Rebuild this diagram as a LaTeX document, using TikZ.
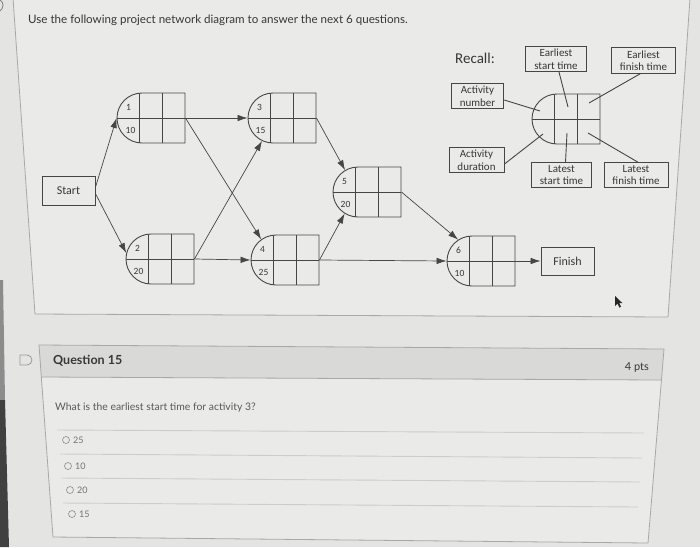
\documentclass[tikz,border=0pt]{standalone}
\usepackage{fontspec}
\setmainfont{Lato}
\newfontfamily\diagfont{Carlito}
\usetikzlibrary{arrows.meta, shapes.misc}
\definecolor{pagebg}{RGB}{228,228,226}
\definecolor{panelbg}{RGB}{234,234,232}
\definecolor{headbg}{RGB}{217,217,215}
\definecolor{framegray}{RGB}{168,168,166}
\definecolor{rulegray}{RGB}{204,204,202}
\definecolor{inkgray}{RGB}{70,70,70}
\definecolor{textgray}{RGB}{55,55,55}

\begin{document}
\begin{tikzpicture}[x=1pt, y=-1pt,
  act/.style={rounded rectangle, rounded rectangle right arc=none, draw=inkgray, line width=0.9pt,
    minimum width=68pt, minimum height=50pt, inner sep=0pt,
    path picture={
      \draw[inkgray, line width=0.9pt] (path picture bounding box.west) -- (path picture bounding box.east);
      \draw[inkgray, line width=0.9pt] ([xshift=22.5pt]path picture bounding box.north west) -- ([xshift=22.5pt]path picture bounding box.south west);
      \draw[inkgray, line width=0.9pt] ([xshift=45pt]path picture bounding box.north west) -- ([xshift=45pt]path picture bounding box.south west);
    }},
  num/.style={font=\diagfont\fontsize{9.5}{10}\selectfont, text=textgray, inner sep=0pt},
  endbox/.style={draw=inkgray, line width=0.8pt, minimum width=53pt, minimum height=29pt, inner sep=0pt,
    font=\diagfont\fontsize{12}{14}\selectfont, text=textgray},
  keybox/.style={draw=inkgray, line width=0.9pt, align=center, inner xsep=8.5pt, inner ysep=2.5pt,
    font=\diagfont\fontsize{11}{12.5}\selectfont, text=textgray},
  flow/.style={draw=inkgray, line width=0.7pt, -{Latex[length=10pt,width=6.5pt]}},
  lead/.style={draw=inkgray, line width=0.9pt},
  pagetext/.style={inner sep=0pt, text=textgray},
  radio/.style={circle, draw=black!45, line width=0.6pt, minimum size=7pt, inner sep=0pt},
  opttext/.style={inner sep=0pt, anchor=west, text=black!55, font=\fontsize{9}{11}\selectfont},
  ]
\useasboundingbox (0,0) rectangle (700,547);
% page
\fill[pagebg] (0,0) rectangle (700,547);
\fill[black!45] (0,280) -- (3,280) -- (5,400) -- (0,400) -- cycle;
\fill[black!75] (0,400) -- (5,400) -- (9,547) -- (0,547) -- cycle;
\draw[black!50, line width=0.8pt] (0,0) .. controls (4,2) and (4,8) .. (0,11);
% diagram panel
\filldraw[fill=panelbg, draw=framegray, line width=0.8pt] (13,-2) -- (35,314) -- (668,317) -- (690,-2) -- cycle;
\node[pagetext, anchor=west, font=\fontsize{11.6}{14}\selectfont] (title) at (28,20)
  {Use the following project network diagram to answer the next 6 questions.};

% activity nodes
\node[endbox] (start) at (68.5,190.5) {Start};
\node[act] (a1) at (151,118) {};
\node[num] (n1) at ([xshift=12pt,yshift=11pt]a1.west) {1};
\node[num] (d1) at ([xshift=14pt,yshift=-12pt]a1.west) {10};
\node[act] (a2) at (160,259) {};
\node[num] (n2) at ([xshift=12pt,yshift=11pt]a2.west) {2};
\node[num] (d2) at ([xshift=13pt,yshift=-12pt]a2.west) {20};
\node[act] (a3) at (282,118) {};
\node[num] (n3) at ([xshift=12pt,yshift=11pt]a3.west) {3};
\node[num] (d3) at ([xshift=13pt,yshift=-12pt]a3.west) {15};
\node[act] (a4) at (285,260) {};
\node[num] (n4) at ([xshift=12pt,yshift=11pt]a4.west) {4};
\node[num] (d4) at ([xshift=13pt,yshift=-12pt]a4.west) {25};
\node[act] (a5) at (367,192) {};
\node[num] (n5) at ([xshift=12pt,yshift=11pt]a5.west) {5};
\node[num] (d5) at ([xshift=13pt,yshift=-12pt]a5.west) {20};
\node[act] (a6) at (481,261) {};
\node[num] (n6) at ([xshift=12pt,yshift=11pt]a6.west) {6};
\node[num] (d6) at ([xshift=13pt,yshift=-12pt]a6.west) {10};
\node[endbox, minimum height=28pt] (finish) at (567.5,261) {Finish};

% precedence arrows
\draw[flow] ([yshift=3pt]start.east) -- (a1.west);
\draw[flow] ([yshift=-3pt]start.east) -- (a2.170);
\draw[flow] (a1.east) -- (a3.west);
\draw[flow] (a1.east) -- (a4.139);
\draw[flow] (a2.east) -- (a3.229);
\draw[flow] (a2.east) -- (a4.west);
\draw[flow] (a3.east) -- (a5.135);
\draw[flow] (a4.east) -- (a5.224);
\draw[flow] (a4.east) -- (a6.west);
\draw[flow] (a5.east) -- (a6.137);
\draw[flow] (a6.east) -- (finish.west);

% recall key
\node[pagetext, anchor=west, font=\diagfont\fontsize{15}{17}\selectfont] (recall) at (455,58) {Recall:};
\node[act] (key) at (566,119) {};
\node[keybox] (est) at (556,59) {Earliest\\start time};
\node[keybox] (eft) at (643.5,60.5) {Earliest\\finish time};
\node[keybox] (anum) at (477.5,96) {Activity\\number};
\node[keybox] (adur) at (476.5,160) {Activity\\duration};
\node[keybox] (lst) at (561.5,175) {Latest\\start time};
\node[keybox] (lft) at (636,175) {Latest\\finish time};
\coordinate (knum) at (540,111);
\coordinate (kest) at (568,107);
\coordinate (keft) at (589,103);
\coordinate (kdur) at (543,134);
\coordinate (klst) at (567,133);
\coordinate (klft) at (588,133);
\draw[lead] ([yshift=-4pt]anum.east) -- (knum);
\draw[lead] ([xshift=3pt]est.south) -- (kest);
\draw[lead] ([xshift=-3pt]eft.south) -- (keft);
\draw[lead] ([yshift=-4pt]adur.east) -- (kdur);
\draw[lead] ([xshift=4pt]lst.north) -- (klst);
\draw[lead] ([xshift=2pt]lft.north) -- (klft);

% cursor
\fill[black!85] (615,296) -- (615,306) -- (617.5,303.6) -- (619.4,307.6) -- (621,306.8) -- (619.2,303) -- (622.3,303) -- cycle;

% question box
\fill[panelbg] (39,345) -- (664,349) -- (648,543) -- (53,537) -- cycle;
\fill[headbg] (39,345) -- (664,349) -- (661.4,380) -- (41.3,377) -- cycle;
\draw[framegray, line width=0.8pt] (39,345) -- (664,349) -- (648,543) -- (53,537) -- cycle;
\draw[framegray, line width=0.8pt] (41.3,377) -- (661.4,380);
\draw[black!40, line width=0.8pt] (20,355) -- (27,355) arc(-90:90:5) -- (20,365) -- cycle;
\node[pagetext, anchor=west, font=\bfseries\fontsize{12.5}{15}\selectfont] (qhead) at (53,361) {Question 15};
\node[pagetext, anchor=east, font=\fontsize{11}{13}\selectfont] (pts) at (649,367) {4 pts};
\node[pagetext, anchor=west, text=black!65, font=\fontsize{10.4}{12}\selectfont] (qtext) at (55,408)
  {What is the earliest start time for activity 3?};
\draw[rulegray, line width=0.9pt] (57,430) -- (644,433);
\draw[rulegray, line width=0.9pt] (60,454) -- (642,458);
\draw[rulegray, line width=0.9pt] (61,478) -- (640,482);
\draw[rulegray, line width=0.9pt] (63,503) -- (638,507);
\node[radio] (o1) at (66,440) {};
\node[opttext] (t1) at (73,440) {25};
\node[radio] (o2) at (68,466) {};
\node[opttext] (t2) at (75,466) {10};
\node[radio] (o3) at (70,490) {};
\node[opttext] (t3) at (77,490) {20};
\node[radio] (o4) at (72,514) {};
\node[opttext] (t4) at (79,514) {15};
\end{tikzpicture}
\end{document}
